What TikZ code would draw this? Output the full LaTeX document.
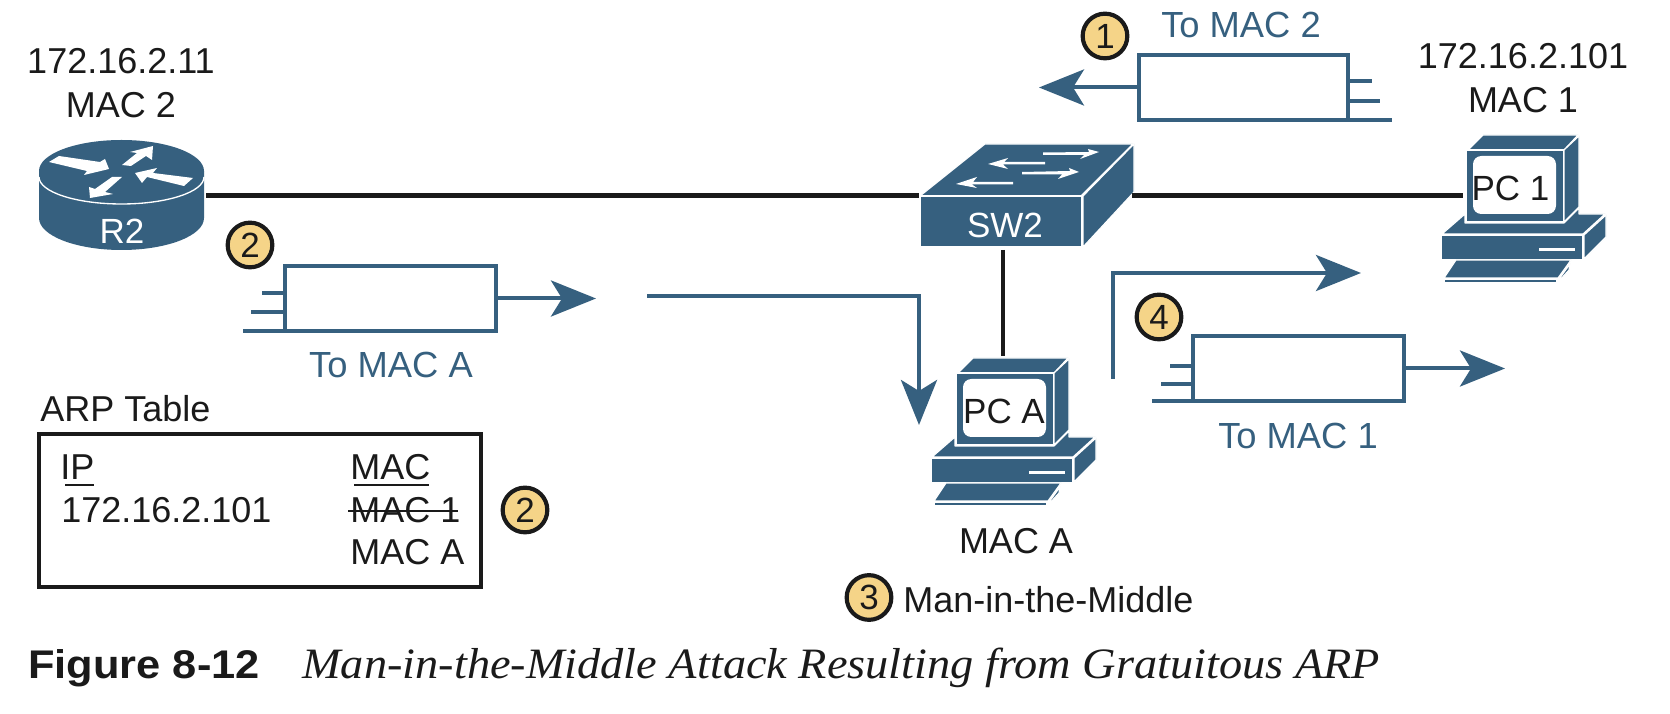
\documentclass[tikz,border=0pt]{standalone}
\usepackage{fontspec}
\setmainfont{Liberation Sans}
\newfontfamily\capser{Liberation Serif}
\usetikzlibrary{calc,arrows.meta}
\definecolor{ciscoblue}{HTML}{36607F}
\definecolor{badge}{HTML}{F5D488}
\definecolor{ink}{HTML}{1A1A1A}
\tikzset{
 x=0.6pt,y=-0.6pt,
 lab/.style={font=\fontsize{21.6pt}{26.4pt}\selectfont,text=ink,inner sep=0pt,align=center},
 iconlab/.style={font=\fontsize{21pt}{26.4pt}\selectfont,text=ink,inner sep=0pt},
 bluelab/.style={font=\fontsize{21.8pt}{26.4pt}\selectfont,text=ciscoblue,inner sep=0pt},
 whitelab/.style={font=\fontsize{21pt}{26.4pt}\selectfont,text=white,inner sep=0pt},
 tabletext/.style={font=\fontsize{21.6pt}{26.4pt}\selectfont,text=ink,inner sep=0pt,anchor=base west},
 numbadge/.style={circle,draw=ink,line width=2.5pt,fill=badge,minimum size=26.8pt,inner sep=0pt,font=\fontsize{21pt}{24pt}\selectfont,text=ink},
 link/.style={draw=ink,line width=2.6pt},
 flow/.style={draw=ciscoblue,line width=2.4pt},
 flowarrow/.style={flow,-{Stealth[length=27pt,width=21.6pt,inset=6.6pt]}},
 framebox/.style={rectangle,draw=ciscoblue,line width=2.4pt,fill=white,inner sep=0pt,outer sep=0pt,minimum width=126.6pt,minimum height=39pt},
 body/.style={fill=ciscoblue,draw=white,line width=0.7pt,line join=round},
}
% PC icon: #1,#2 = top left of the monitor, #3 = node name, #4 = text, #5 = text x
\newcommand{\pcicon}[5]{%
\begin{scope}[shift={(#1,#2)}]
 \path[body] (3,-1) -- (18,-16) -- (113,-16) -- (99,-1) -- cycle;
 \path[body] (-23,83) -- (0,63) -- (0,72) -- (99,72) -- (114,57) -- (114,63) -- (140,63) -- (118,83) -- cycle;
 \path[body] (-24,84.5) rectangle (118,109);
 \path[body] (119,84) -- (141,64) -- (141,86) -- (119,108) -- cycle;
 \path[body] (-9,109) -- (106,109) -- (93,127) -- (-21,127) -- cycle;
 \path[body] (-21,128) rectangle (92,132);
 \path[body] (94,128) -- (105,113) -- (104,119) -- (94,130) -- cycle;
 \path[body] (1,-1) rectangle (99,71);
 \path[body] (99,-1) -- (114,-15) -- (114,56) -- (99,71) -- cycle;
 \fill[white,rounded corners=5pt] (8,5) rectangle (91,63);
 \fill[white] (74,97) rectangle (110,100);
 \node[iconlab] (#3) at (#5,37) {#4};
\end{scope}}
\begin{document}
\begin{tikzpicture}
\useasboundingbox (0,0) rectangle (1670,714);
\fill[white] (0,0) rectangle (1670,714);

% ---- router R2
\fill[ciscoblue] (39,171) -- (39,218) arc[start angle=180,end angle=0,x radius=82.5,y radius=32] -- (204,171) -- cycle;
\fill[ciscoblue] (121.5,171) ellipse[x radius=82.5,y radius=31];
\draw[white,line width=0.8pt] (39,177) arc[start angle=180,end angle=0,x radius=82.5,y radius=27];
\fill[white] (49,162) -- (59,156) -- (100,162) -- (105,159) -- (109,169) -- (84,175) -- (87,171) -- cycle;
\fill[white] (122,165) -- (137,153) -- (130,152) -- (153,146) -- (152,160) -- (146,156) -- (131,166) -- cycle;
\fill[white] (193,178) -- (184,186) -- (147,177) -- (142,183) -- (135,173) -- (157,168) -- (153,173) -- cycle;
\fill[white] (112,177) -- (122,177) -- (105,192) -- (113,194) -- (90,198) -- (89,187) -- (95,189) -- cycle;
\node[whitelab] (r2) at (122,231) {R2};

% ---- switch SW2
\path[body] (985,144) -- (1133,144) -- (1081,196) -- (920,196) -- cycle;
\path[body] (920,196) rectangle (1082,247);
\path[body] (1083,196) -- (1134,144) -- (1134,192) -- (1083,247) -- cycle;
\node[whitelab] (sw2) at (1005,225) {SW2};
\fill[white] (1043,152.5) -- (1089,152) -- (1088,149) -- (1099,152) -- (1080,159) -- (1084,155) -- (1043,155) -- cycle;
\fill[white] (988,164) -- (1008,158) -- (1004,162) -- (1045,162) -- (1045,164.5) -- (1003,164.5) -- (1008,169) -- cycle;
\fill[white] (1022,172) -- (1070,171) -- (1069,168) -- (1079,172) -- (1058,179) -- (1062,174.5) -- (1022,174.5) -- cycle;
\fill[white] (956,184) -- (977,177) -- (973,182) -- (1013,182) -- (1013,184.5) -- (972,184.5) -- (977,188) -- cycle;

% ---- PCs
\pcicon{1465}{151}{pc1}{PC 1}{45.5}
\pcicon{955}{374}{pca}{PC A}{49}

% ---- links
\coordinate (r2port) at (206,195.5);
\coordinate (swL) at (919,195.5);
\coordinate (swR) at (1132,195.5);
\coordinate (pc1port) at (1463,195.5);
\coordinate (swB) at (1003,250);
\coordinate (pcaT) at (1003,356);
\draw[link] (r2port) -- (swL);
\draw[link] (swR) -- (pc1port);
\draw[link] (swB) -- (pcaT);

% ---- labels
\node[lab] (r2lab) at (121,83) {172.16.2.11\\MAC 2};
\node[lab] (pc1lab) at (1523,78) {172.16.2.101\\MAC 1};
\node[lab] (macA) at (1016,541) {MAC A};
\node[lab,anchor=west] (mitm) at (903,599.5) {Man-in-the-Middle};
\node[numbadge] (b3) at (869,597.5) {3};

% ---- frame 1
\node[bluelab] (l1) at (1241,24.5) {To MAC 2};
\node[numbadge] (b1) at (1105,36) {1};
\node[framebox,minimum width=125.4pt] (f1) at (1243.5,87.5) {};
\coordinate (t1) at (1039,87.5);
\draw[flowarrow] (f1.west) -- (t1);
\coordinate (f1a) at (1372,81);
\coordinate (f1b) at (1380,101);
\coordinate (f1c) at (1392,120);
\draw[flow] (f1.east |- f1a) -- (f1a);
\draw[flow] (f1.east |- f1b) -- (f1b);
\draw[flow] (f1.east |- f1c) -- (f1c);

% ---- frame 2
\node[numbadge] (b2a) at (250,245) {2};
\node[framebox] (f2) at (390,298.5) {};
\coordinate (t2) at (596,298.5);
\draw[flowarrow] (f2.east) -- (t2);
\coordinate (f2a) at (262,293);
\coordinate (f2b) at (251,312);
\coordinate (f2c) at (243,331);
\draw[flow] (f2.west |- f2a) -- (f2a);
\draw[flow] (f2.west |- f2b) -- (f2b);
\draw[flow] (f2.west |- f2c) -- (f2c);
\node[bluelab] (l2) at (391,365) {To MAC A};

% ---- long path to PC A
\coordinate (p1) at (647,296);
\coordinate (p2) at (919,296);
\coordinate (p3) at (919,425);
\draw[flowarrow,line join=miter] (p1) -- (p2) -- (p3);

% ---- path to PC 1
\coordinate (q1) at (1113,379);
\coordinate (q2) at (1113,273);
\coordinate (q3) at (1361,273);
\draw[flowarrow,line join=miter] (q1) -- (q2) -- (q3);

% ---- frame 4
\node[numbadge] (b4) at (1159,317) {4};
\node[framebox] (f4) at (1298.5,368.5) {};
\coordinate (t4) at (1505,368.5);
\draw[flowarrow] (f4.east) -- (t4);
\coordinate (f4a) at (1170,366);
\coordinate (f4b) at (1161,384);
\coordinate (f4c) at (1152,401);
\draw[flow] (f4.west |- f4a) -- (f4a);
\draw[flow] (f4.west |- f4b) -- (f4b);
\draw[flow] (f4.west |- f4c) -- (f4c);
\node[bluelab] (l4) at (1298,435.5) {To MAC 1};

% ---- ARP table
\node[tabletext] (arpt) at (40,422) {ARP Table};
\node[draw=ink,line width=2.6pt,inner sep=0pt,minimum width=265.2pt,minimum height=91.8pt] (tbl) at (260,510.5) {};
\node[tabletext] (ip) at (60,480) {IP};
\node[tabletext] (ipv) at (61,523) {172.16.2.101};
\node[tabletext] (mh) at (350,480) {MAC};
\node[tabletext] (m1) at (350,523) {MAC 1};
\node[tabletext] (ma) at (350,565) {MAC A};
\coordinate (u1) at (65,485.5);
\coordinate (u2) at (94,485.5);
\coordinate (u3) at (354,485.5);
\coordinate (u4) at (429,485.5);
\coordinate (s1) at (348,511);
\coordinate (s2) at (458,511);
\draw[ink,line width=1.2pt] (u1) -- (u2);
\draw[ink,line width=1.2pt] (u3) -- (u4);
\draw[ink,line width=1.2pt] (s1) -- (s2);
\node[numbadge] (b2b) at (525,510) {2};

% ---- caption
\node[anchor=base west,inner sep=0pt,font=\fontsize{24pt}{28pt}\selectfont\bfseries,text=ink] (figno) at (28,678) {\scalebox{1.085}[1]{Figure 8-12}};
\node[anchor=base west,inner sep=0pt,font=\fontsize{26pt}{30pt}\selectfont\capser\itshape,text=ink] (figcap) at (302,678) {\scalebox{1.069}[1]{Man-in-the-Middle Attack Resulting from Gratuitous ARP}};
\end{tikzpicture}
\end{document}
